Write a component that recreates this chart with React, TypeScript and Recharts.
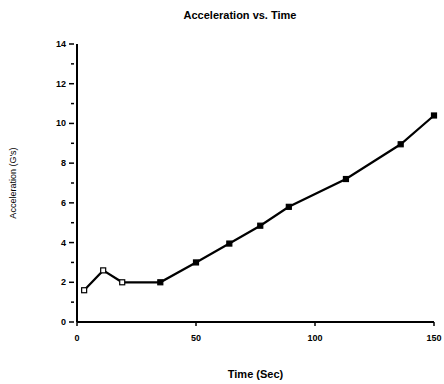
import { LineChart, Line, XAxis, YAxis, Label } from "recharts";

// Measured acceleration over time
const timeSec = [3, 11, 19, 35, 50, 64, 77, 89, 113, 136, 150];
const accelG = [1.6, 2.6, 2.0, 2.0, 3.0, 3.95, 4.85, 5.8, 7.2, 8.95, 10.4];

const yTicks = [0, 1, 2, 3, 4, 5, 6, 7, 8, 9, 10, 11, 12, 13, 14];
const xTicks = [0, 50, 100, 150];

const data = timeSec.map((t, i) => ({ t, g: accelG[i] }));

const FONT = "'Liberation Sans', Arial, sans-serif";

/** Y tick: long tick + label on even values, short bare tick on odd ones. */
function YTick(props: { x?: number; y?: number; payload?: { value: number } }) {
  const { x = 0, y = 0, payload } = props;
  const v = payload?.value ?? 0;
  const major = v % 2 === 0;
  return (
    <g>
      <line x1={x + 5} x2={x + 5 - (major ? 5 : 3)} y1={y} y2={y} stroke="#000" strokeWidth={1.5} />
      {major && (
        <text x={x - 3} y={y} dy={3} textAnchor="end" fontSize={9} fontWeight="bold" fontFamily={FONT} fill="#000">
          {v}
        </text>
      )}
    </g>
  );
}

/** Dots: the first readings are open squares, the rest filled. */
function Marker(props: { cx?: number; cy?: number; index?: number }) {
  const { cx, cy, index = 0 } = props;
  if (cx == null || cy == null) return null;
  const open = index < 3;
  return (
    <rect
      key={index}
      x={cx - 2.5}
      y={cy - 2.5}
      width={5}
      height={5}
      fill={open ? "#fff" : "#000"}
      stroke="#000"
      strokeWidth={1.2}
    />
  );
}

export default function App() {
  return (
    <div style={{ position: "absolute", left: 0, top: 0, width: 444, height: 384, background: "#fff" }}>
      <LineChart width={444} height={384} data={data} margin={{ top: 44, right: 10, bottom: 0, left: 0 }}>
        <text x={240} y={19} textAnchor="middle" fontSize={11} fontWeight="bold" fontFamily={FONT} fill="#000">
          Acceleration vs. Time
        </text>
        <XAxis
          type="number"
          dataKey="t"
          domain={[0, 150]}
          ticks={xTicks}
          interval={0}
          axisLine={{ stroke: "#000", strokeWidth: 2 }}
          tickLine={{ stroke: "#000", strokeWidth: 1.5 }}
          tickSize={4}
          tickMargin={9}
          tick={{ fontSize: 9, fontWeight: "bold", fontFamily: FONT, fill: "#000" }}
          height={62}
        >
          <Label
            value="Time (Sec)"
            position="insideBottom"
            offset={6}
            fill="#000"
            style={{ fontSize: 11, fontWeight: "bold", fontFamily: FONT, fill: "#000" }}
          />
        </XAxis>
        <YAxis
          type="number"
          domain={[0, 14]}
          ticks={yTicks}
          interval={0}
          width={77}
          axisLine={{ stroke: "#000", strokeWidth: 2 }}
          tickLine={false}
          tick={YTick}
        >
          <Label
            value="Acceleration (G's)"
            angle={-90}
            position="insideLeft"
            offset={13}
            fill="#000"
            style={{ textAnchor: "middle", fontSize: 9, fontWeight: 500, fontFamily: FONT, fill: "#000" }}
          />
        </YAxis>
        <Line
          type="linear"
          dataKey="g"
          stroke="#000"
          strokeWidth={2.2}
          dot={Marker}
          activeDot={false}
          isAnimationActive={false}
        />
      </LineChart>
    </div>
  );
}
